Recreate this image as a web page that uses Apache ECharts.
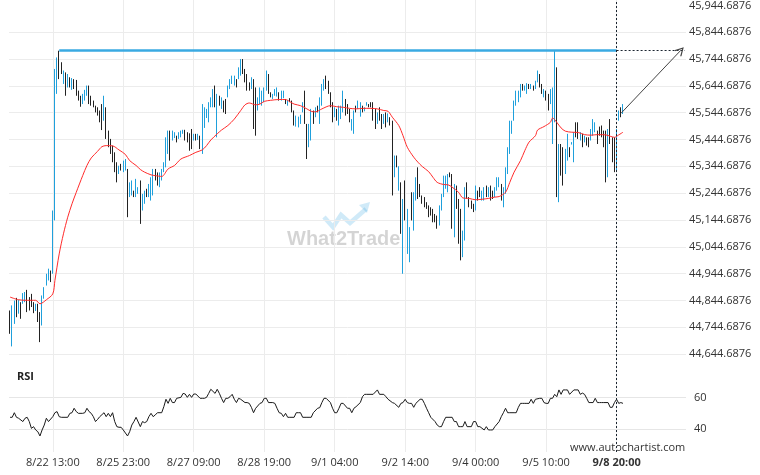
<!DOCTYPE html>
<html>
<head>
<meta charset="utf-8">
<script src="https://cdn.jsdelivr.net/npm/echarts@6/dist/echarts.min.js"></script>
<style>html,body{margin:0;padding:0;background:#fff}#c{width:760px;height:475px}</style>
</head>
<body>
<div id="c"></div>
<script>
// ---- data ----
const tickIndex = [20,53,86,119,152,185,218,251,284];
const tickLabels = ['8/22 13:00','8/25 23:00','8/27 09:00','8/28 19:00','9/1 04:00','9/2 14:00','9/4 00:00','9/5 10:00','9/8 20:00'];
const priceTicks = {min: 44644.6876, max: 45944.6876, step: 100};
const resistanceLevel = 45777;
const resistanceStart = 23;
const patternEnd = 284;
const forecastEnd = 314;
const forecastStart = [286, 45542];

const barHigh = [
44807,44826,44844,44854,44847,44838,44872,44876,44884,44857,
44869,44838,44832,44832,44801,44863,44894,44944,44963,44956,
45180,45708,45751,45776,45733,45702,45695,45689,45677,45674,
45670,45667,45627,45608,45615,45630,45646,45646,45608,45590,
45571,45565,45553,45577,45608,45565,45478,45447,45422,45397,
45360,45347,45354,45366,45372,45335,45285,45292,45254,45298,
45267,45292,45242,45254,45261,45279,45304,45335,45335,45322,
45322,45335,45360,45453,45478,45478,45478,45472,45459,45472,
45478,45481,45481,45472,45468,45484,45466,45466,45466,45459,
45577,45565,45559,45584,45602,45633,45646,45615,45608,45602,
45590,45596,45646,45670,45683,45683,45670,45714,45745,45745,
45708,45689,45658,45677,45670,45639,45602,45639,45627,45639,
45702,45689,45621,45615,45633,45639,45621,45627,45627,45596,
45592,45599,45590,45553,45534,45530,45537,45584,45627,45503,
45503,45559,45553,45565,45571,45602,45652,45670,45683,45664,
45621,45584,45565,45559,45571,45571,45627,45596,45577,45559,
45521,45553,45571,45590,45584,45571,45565,45584,45577,45584,
45584,45559,45546,45565,45540,45540,45546,45542,45528,45515,
45385,45385,45345,45285,45223,45292,45186,45118,45248,45248,
45304,45341,45279,45236,45230,45211,45199,45192,45186,45167,
45161,45199,45242,45310,45310,45316,45322,45316,45279,45273,
45223,45186,45105,45267,45285,45230,45217,45205,45273,45254,
45267,45254,45267,45273,45267,45273,45254,45267,45304,45304,
45279,45267,45341,45416,45515,45515,45590,45627,45627,45652,
45652,45646,45655,45652,45652,45646,45664,45702,45689,45652,
45633,45627,45615,45633,45639,45776,45714,45428,45428,45416,
45410,45466,45416,45435,45472,45509,45509,45472,45466,45459,
45453,45453,45484,45521,45509,45478,45493,45497,45478,45478,
45484,45521,45453,45453,45484,45553,45565,45577
];
const barLow = [
44720,44673,44757,44782,44795,44776,44832,44838,44801,44807,
44820,44797,44805,44764,44689,44751,44851,44900,44919,44913,
44944,45143,45615,45670,45689,45652,45608,45639,45639,45630,
45633,45608,45590,45567,45577,45590,45608,45577,45571,45565,
45546,45534,45509,45480,45515,45447,45416,45391,45360,45323,
45285,45316,45329,45323,45329,45155,45230,45236,45230,45230,
45242,45130,45180,45205,45230,45230,45217,45236,45292,45273,
45267,45292,45323,45341,45391,45366,45441,45450,45434,45447,
45453,45466,45441,45434,45403,45409,45441,45441,45443,45409,
45391,45488,45525,45509,45565,45565,45565,45453,45571,45559,
45546,45540,45602,45633,45652,45646,45639,45670,45683,45689,
45658,45627,45627,45633,45484,45459,45553,45577,45571,45584,
45627,45615,45602,45596,45608,45605,45590,45590,45599,45577,
45571,45584,45546,45497,45493,45490,45503,45546,45503,45372,
45416,45441,45503,45528,45546,45503,45571,45627,45633,45615,
45565,45509,45528,45515,45497,45521,45546,45534,45540,45509,
45478,45466,45546,45559,45530,45546,45550,45571,45565,45565,
45515,45484,45503,45515,45484,45503,45490,45509,45497,45236,
45304,45341,45254,45093,44944,45143,45018,44987,45143,45105,
45217,45223,45230,45205,45192,45186,45155,45161,45136,45136,
45112,45124,45180,45230,45261,45248,45304,45112,45080,45186,
45056,44994,45006,45068,45223,45192,45186,45174,45180,45217,
45230,45217,45217,45230,45230,45217,45223,45230,45254,45267,
45217,45192,45242,45316,45391,45466,45515,45571,45584,45602,
45627,45627,45615,45633,45633,45627,45633,45658,45639,45615,
45602,45590,45553,45577,45428,45509,45230,45211,45310,45273,
45316,45366,45379,45426,45360,45453,45447,45441,45416,45434,
45422,45416,45441,45459,45472,45428,45459,45453,45416,45285,
45304,45428,45360,45323,45329,45515,45528,45540
];
const barUp = [
0,1,1,0,1,0,1,1,0,0, 0,0,1,0,0,1,1,1,1,0, 1,1,1,0,0,1,0,1,0,1, 0,0,0,0,1,1,1,0,0,0,
0,0,0,0,1,0,0,0,0,0, 0,1,0,1,1,0,1,1,0,1, 1,0,1,1,0,1,1,1,0,0, 1,1,1,1,1,0,1,1,0,1,
1,1,0,0,0,0,1,0,1,0, 1,1,1,1,1,1,0,1,0,1, 0,0,1,1,1,1,0,1,1,0, 0,0,0,1,0,0,1,1,1,1,
1,0,0,1,1,1,0,1,1,0, 1,0,0,0,1,1,1,1,0,0, 1,1,0,1,0,1,1,1,0,0, 0,0,1,0,1,1,1,0,0,0,
1,1,0,1,1,0,1,1,0,0, 0,0,1,0,0,1,0,1,0,0, 1,0,1,0,1,0,1,1,0,1, 1,0,0,0,0,0,0,0,0,0,
0,1,1,1,1,1,0,0,1,0, 0,0,1,1,0,0,0,0,1,0, 0,1,1,0,1,0,0,1,1,1, 0,1,1,1,1,1,1,1,1,1,
0,1,1,0,1,0,1,1,0,0, 1,0,0,1,1,1,0,1,0,0, 1,1,0,1,1,0,0,1,0,1, 0,0,1,1,1,0,0,0,0,0,
1,0,0,0,1,1,0,1
];
const maPoints = [
[0,44857],[4,44847],[8,44845],[12,44845],[14,44832],[17,44847],[20,44869],[21,44919],[23,45018],[25,45093],
[27,45155],[29,45205],[31,45248],[34,45310],[36,45348],[38,45376],[41,45401],[43,45418],[45,45422],[48,45421],
[51,45406],[54,45389],[56,45366],[59,45348],[61,45333],[63,45323],[66,45313],[68,45310],[71,45307],[74,45335],
[77,45348],[80,45372],[84,45385],[87,45397],[90,45406],[92,45422],[94,45443],[97,45466],[99,45480],[102,45497],
[105,45521],[108,45553],[110,45574],[112,45581],[115,45574],[117,45577],[119,45587],[122,45591],[126,45594],[129,45594],
[131,45586],[133,45577],[136,45571],[139,45559],[141,45550],[143,45548],[146,45559],[150,45571],[153,45567],[156,45565],
[159,45561],[162,45559],[165,45561],[169,45561],[172,45559],[175,45553],[177,45550],[179,45528],[182,45497],[184,45459],
[186,45416],[189,45379],[191,45360],[193,45344],[196,45325],[198,45304],[200,45285],[203,45277],[205,45276],[207,45267],
[210,45248],[212,45227],[215,45225],[218,45220],[221,45222],[224,45225],[227,45230],[229,45232],[232,45248],[234,45285],
[236,45323],[239,45366],[241,45403],[243,45435],[246,45459],[247,45480],[250,45493],[253,45509],[254,45525],[256,45509],
[258,45488],[260,45476],[263,45472],[266,45471],[269,45463],[272,45461],[275,45463],[279,45462],[281,45457],[283,45453],
[285,45462],[287,45472]
];
const rsiPoints = [
[0,47.6],[1,47.6],[2,50.5],[3,47.6],[4,47.0],[6,44.9],[7,47.0],[8,47.6],[9,44.9],[10,40.6],[11,41.7],[12,39.6],[13,38.5],[14,35.8],[15,39.6],[16,42.7],[17,47.0],[18,44.9],[20,48.0],[21,50.5],[22,51.2],[23,48.0],[24,47.6],[27,47.6],[28,50.1],[29,50.5],[30,53.3],[31,51.2],[32,50.1],[34,50.1],[35,50.5],[36,53.3],[37,51.2],[38,50.1],[39,48.0],[40,44.9],[41,46.3],[42,48.0],[44,50.5],[45,48.0],[46,50.1],[47,48.0],[48,50.5],[49,44.9],[50,41.7],[51,41.3],[52,41.3],[53,39.6],[55,35.8],[56,38.5],[57,42.7],[58,44.9],[59,47.6],[61,41.7],[62,44.9],[63,44.2],[64,44.9],[65,48.0],[66,50.1],[67,48.0],[68,49.1],[69,50.5],[71,50.5],[72,54.3],[73,59.0],[74,56.4],[75,59.6],[76,56.9],[77,56.9],[78,59.6],[80,60.2],[81,62.7],[82,62.3],[83,60.2],[84,62.1],[85,60.2],[86,62.3],[87,62.3],[89,59.6],[90,59.6],[91,59.6],[92,60.2],[93,62.7],[94,65.3],[96,62.7],[97,65.3],[98,62.7],[99,59.6],[100,56.9],[101,59.6],[102,59.6],[103,60.6],[104,62.1],[105,59.0],[106,56.9],[107,59.6],[108,59.0],[110,56.9],[111,56.9],[112,56.4],[113,53.9],[114,50.5],[115,53.3],[117,56.4],[118,56.9],[119,59.6],[120,59.6],[121,56.9],[123,56.9],[124,56.4],[125,53.3],[126,50.5],[127,50.1],[128,48.0],[129,50.1],[130,47.6],[131,47.6],[133,47.6],[134,50.5],[135,50.5],[136,50.5],[137,47.6],[139,47.6],[140,47.6],[141,47.6],[142,50.5],[144,53.3],[145,53.7],[146,56.9],[147,59.6],[148,59.6],[150,56.9],[151,53.3],[152,50.5],[153,50.5],[154,53.3],[155,56.4],[156,56.4],[158,53.3],[159,53.3],[160,50.5],[161,53.3],[162,54.3],[164,56.9],[165,60.6],[166,62.1],[167,62.1],[169,62.1],[170,62.1],[172,64.9],[173,62.1],[175,62.1],[176,60.6],[177,59.0],[179,56.9],[180,56.4],[182,53.9],[183,56.4],[184,56.9],[185,59.0],[186,56.9],[187,56.4],[188,56.4],[189,53.9],[190,56.4],[192,59.0],[193,59.0],[194,56.4],[195,53.3],[196,50.5],[197,47.6],[199,44.9],[200,42.7],[201,41.7],[202,41.7],[203,44.9],[204,47.6],[206,47.6],[207,47.6],[208,44.9],[209,44.9],[210,41.7],[211,41.7],[212,41.7],[213,44.9],[214,41.7],[216,41.7],[217,44.9],[218,44.9],[219,41.7],[220,41.7],[222,39.6],[223,41.7],[224,39.6],[225,39.6],[226,39.6],[227,41.7],[229,44.9],[230,48.0],[231,50.5],[232,53.3],[233,50.5],[234,50.5],[236,50.5],[237,50.5],[238,53.9],[239,56.4],[240,56.4],[241,56.4],[242,56.4],[243,56.4],[244,59.0],[245,56.4],[246,59.0],[248,59.6],[249,59.6],[250,56.9],[251,56.4],[252,56.4],[253,59.6],[254,59.6],[255,62.1],[256,60.6],[257,64.9],[258,62.1],[259,64.9],[260,64.9],[261,64.9],[262,62.1],[264,64.9],[265,64.9],[266,64.9],[267,62.1],[268,62.9],[269,62.1],[270,59.6],[271,56.9],[272,56.9],[273,56.9],[274,59.6],[275,56.9],[276,56.9],[277,56.9],[278,56.9],[280,56.9],[281,53.9],[282,53.9],[283,56.9],[284,59.0],[285,56.4],[286,56.9],[287,56.4]
];
const slotCount = 317;

// ---- build ----
const categories = Array.from({length: slotCount}, (_, i) => String(i));
const candleData = barHigh.map((h, i) => barUp[i] ? [barLow[i], h, barLow[i], h] : [h, barLow[i], barLow[i], h]);
const isTick = (i) => tickIndex.indexOf(i) >= 0;
const UP = '#1fa0dc', DOWN = '#222222';
const chevron = 'path://M5,0 L10,9 L9,10 L5,2.6 L1,10 L0,9 Z';
const LEFT = 9, RIGHT = 74;
function fmtPrice(v) {
  const k = Math.round((v - priceTicks.min) / priceTicks.step);
  const exact = priceTicks.min + k * priceTicks.step;
  const parts = exact.toFixed(4).split('.');
  return parts[0].replace(/\B(?=(\d{3})+(?!\d))/g, ',') + '.' + parts[1];
}

const chart = echarts.init(document.getElementById('c'), null, {renderer: 'canvas'});
chart.setOption({
  animation: false,
  backgroundColor: '#ffffff',
  textStyle: {fontFamily: '"Open Sans", "Noto Sans", sans-serif'},
  grid: [
    {left: LEFT, right: RIGHT, top: 5, height: 349},
    {left: LEFT, right: RIGHT, top: 366, height: 95},
    {left: LEFT, right: RIGHT, top: 0, bottom: 23}
  ],
  xAxis: [
    {type: 'category', gridIndex: 0, data: categories, boundaryGap: true, axisLine: {show: false}, axisTick: {show: false}, axisLabel: {show: false}, splitLine: {show: false}},
    {type: 'category', gridIndex: 1, data: categories, boundaryGap: true, axisLine: {show: false}, axisTick: {show: false}, axisLabel: {show: false}, splitLine: {show: false}},
    {type: 'category', gridIndex: 2, data: categories, boundaryGap: true, position: 'bottom',
      axisLine: {show: false}, axisTick: {show: false, alignWithLabel: true, interval: (i) => isTick(i)},
      axisLabel: {interval: (i) => isTick(i), margin: 5, fontSize: 11, color: '#333',
        formatter: (v, i) => { const k = tickIndex.indexOf(Number(v)); const t = k >= 0 ? tickLabels[k] : ''; return k === tickIndex.length - 1 ? '{b|' + t + '}' : t; },
        rich: {b: {fontWeight: 'bold', fontSize: 11, color: '#333', fontFamily: '"Open Sans", sans-serif'}}},
      splitLine: {show: true, alignWithLabel: true, interval: (i) => isTick(i), lineStyle: {color: '#ececec', width: 1}}}
  ],
  yAxis: [
    {type: 'value', gridIndex: 0, position: 'right', min: priceTicks.min, max: priceTicks.max, interval: priceTicks.step,
      axisLine: {show: false}, axisTick: {show: false},
      axisLabel: {margin: 3, fontSize: 11, color: '#333', formatter: fmtPrice},
      splitLine: {show: true, showMaxLine: false, lineStyle: {color: '#ececec'}}},
    {type: 'value', gridIndex: 1, position: 'right', min: 20, max: 80, interval: 20,
      axisLine: {show: false}, axisTick: {show: false},
      axisLabel: {margin: 8, fontSize: 11, color: '#333', showMinLabel: false, showMaxLabel: false},
      splitLine: {show: true, showMinLine: false, showMaxLine: false, lineStyle: {color: '#e6e6e6'}}},
    {type: 'value', gridIndex: 2, min: 0, max: 1, show: false}
  ],
  series: [
    {type: 'candlestick', xAxisIndex: 0, yAxisIndex: 0, data: candleData, barWidth: 0.6,
      itemStyle: {color: UP, color0: DOWN, borderColor: UP, borderColor0: DOWN, borderWidth: 1},
      markLine: {silent: true, animation: false, symbol: 'none', label: {show: false},
        data: [
          [{coord: [resistanceStart, resistanceLevel], lineStyle: {color: '#3aaae2', width: 2.5, type: 'solid'}}, {coord: [patternEnd, resistanceLevel]}],
          [{coord: [patternEnd, resistanceLevel], lineStyle: {color: '#1b2530', width: 1, type: [2, 2]}}, {coord: [slotCount - 1, resistanceLevel]}],
          [{coord: forecastStart, symbol: 'none', lineStyle: {color: '#444', width: 1, type: 'solid'}}, {coord: [forecastEnd, resistanceLevel], symbol: chevron, symbolSize: [9, 9]}]
        ]}},
    {type: 'line', name: 'MA', xAxisIndex: 0, yAxisIndex: 0, data: maPoints, symbol: 'none', smooth: 0.3,
      lineStyle: {color: '#ff2b2b', width: 1}},
    {type: 'line', name: 'RSI', xAxisIndex: 1, yAxisIndex: 1, data: rsiPoints, symbol: 'none',
      lineStyle: {color: '#1a1a1a', width: 1}},
    {type: 'line', xAxisIndex: 2, yAxisIndex: 2, data: [[patternEnd, -1]], symbol: 'none', lineStyle: {opacity: 0},
      markLine: {silent: true, animation: false, symbol: 'none', label: {show: false},
        lineStyle: {color: '#1b2530', width: 1, type: [2, 2]}, data: [{xAxis: patternEnd}]}}
  ],
  graphic: [
    {type: 'text', left: 17, top: 371, style: {text: 'RSI', font: 'bold 11px "Open Sans", sans-serif', fill: '#222'}},
    {type: 'text', left: 570, top: 442, style: {text: 'www.autochartist.com', font: '11px "Open Sans", sans-serif', fill: '#333'}},
    {type: 'polyline', shape: {points: [[324, 217], [333, 227], [341, 215], [350, 223], [366, 209]]}, style: {stroke: 'rgba(40,160,225,0.22)', lineWidth: 4.5, fill: null}, silent: true},
    {type: 'polygon', shape: {points: [[359, 205], [370, 202], [367, 213]]}, style: {fill: 'rgba(40,160,225,0.22)'}, silent: true},
    {type: 'text', left: 287, top: 229, style: {text: 'What2Trade', font: 'bold 20px "Liberation Sans", Arial, sans-serif', fill: 'rgba(0,0,0,0.17)'}, silent: true}
  ]
});
</script>
</body>
</html>
